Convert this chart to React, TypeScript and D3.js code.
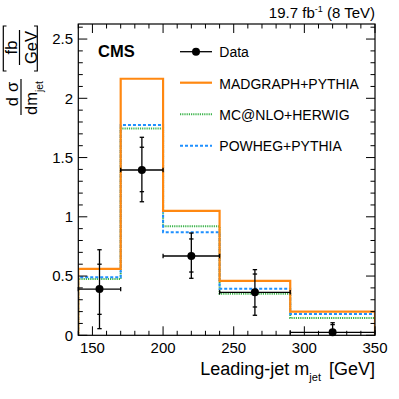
import React from "react";
import * as d3 from "d3";

const binEdges = [140, 170, 200, 240, 290, 350];
const madgraph = [0.56, 2.165, 1.05, 0.46, 0.2];
const mcatnlo = [0.475, 1.745, 0.92, 0.35, 0.146];
const powheg = [0.49, 1.775, 0.87, 0.393, 0.18];
const dataX = [155, 185, 220, 265, 320];
const dataY = [0.39, 1.395, 0.669, 0.363, 0.025];
const statUp = [0.6, 1.587, 0.813, 0.517, 0.09];
const statDown = [0.177, 1.212, 0.534, 0.239, 0];
const totUp = [0.722, 1.671, 0.863, 0.554, 0.106];
const totDown = [0.056, 1.127, 0.481, 0.169, 0];
const xTicks = [150, 200, 250, 300, 350];
const yTicks = [0, 0.5, 1, 1.5, 2, 2.5];
const legendLabels = ["Data", "MADGRAPH+PYTHIA", "MC@NLO+HERWIG", "POWHEG+PYTHIA"];

const FONT = "'Liberation Sans', Arial, Helvetica, sans-serif";
const ORANGE = "#ff8811";
const GREEN = "#3cb44b";
const BLUE = "#1e90ff";

export default function App() {
  const L = 78.3, R = 375, T = 24, B = 335.3;
  const x = d3.scaleLinear().domain([140, 350]).range([L, R]);
  const y = d3.scaleLinear().domain([0, 2.627]).range([B, T]);

  const stepPath = (vals: number[]) => {
    const pts: [number, number][] = [[x(binEdges[0]), y(0)]];
    vals.forEach((v, i) => {
      pts.push([x(binEdges[i]), y(v)]);
      pts.push([x(binEdges[i + 1]), y(v)]);
    });
    pts.push([x(binEdges[binEdges.length - 1]), y(0)]);
    return d3.line()(pts) as string;
  };

  const xMinor = d3.range(140, 351, 10);
  const yMinor = d3.range(0, 2.62, 0.1);

  const cap = 2.2;

  return (
    <svg width={399} height={399} style={{ position: "absolute", left: 0, top: 0 }} fontFamily={FONT}>
      <rect x={0} y={0} width={399} height={399} fill="white" />
      <defs>
        <clipPath id="plotclip">
          <rect x={L} y={T} width={R - L} height={B - T} />
        </clipPath>
      </defs>

      {/* histograms */}
      <g clipPath="url(#plotclip)" fill="none">
        <path d={stepPath(mcatnlo)} stroke={GREEN} strokeWidth={2} strokeDasharray="1.2,1" />
        <path d={stepPath(powheg)} stroke={BLUE} strokeWidth={2} strokeDasharray="3,2" />
        <path d={stepPath(madgraph)} stroke={ORANGE} strokeWidth={2.2} />
      </g>

      {/* frame */}
      <rect x={L} y={T} width={R - L} height={B - T} fill="none" stroke="#000" strokeWidth={1.2} />

      {/* ticks */}
      <g stroke="#000" strokeWidth={1}>
        {xMinor.map((v) => {
          const major = v % 50 === 0;
          const len = major ? 9 : 4.5;
          return (
            <g key={"xt" + v}>
              <line x1={x(v)} x2={x(v)} y1={B} y2={B - len} />
              <line x1={x(v)} x2={x(v)} y1={T} y2={T + len} />
            </g>
          );
        })}
        {yMinor.map((v, i) => {
          const major = i % 5 === 0;
          const len = major ? 9 : 4.5;
          return (
            <g key={"yt" + i}>
              <line x1={L} x2={L + len} y1={y(v)} y2={y(v)} />
              <line x1={R} x2={R - len} y1={y(v)} y2={y(v)} />
            </g>
          );
        })}
      </g>

      {/* data */}
      <g stroke="#000" strokeWidth={1.3}>
        {dataX.map((dx, i) => {
          const cx = x(dx), cy = y(dataY[i]);
          const x0 = x(binEdges[i]), x1 = x(binEdges[i + 1]);
          return (
            <g key={i}>
              <line x1={x0} x2={x1} y1={cy} y2={cy} />
              <line x1={x0} x2={x0} y1={cy - cap} y2={cy + cap} />
              <line x1={x1} x2={x1} y1={cy - cap} y2={cy + cap} />
              <line x1={cx} x2={cx} y1={y(totUp[i])} y2={y(totDown[i])} />
              <line x1={cx - cap} x2={cx + cap} y1={y(totUp[i])} y2={y(totUp[i])} />
              {totDown[i] > 0 && <line x1={cx - cap} x2={cx + cap} y1={y(totDown[i])} y2={y(totDown[i])} />}
              <line x1={cx - cap} x2={cx + cap} y1={y(statUp[i])} y2={y(statUp[i])} />
              {statDown[i] > 0 && <line x1={cx - cap} x2={cx + cap} y1={y(statDown[i])} y2={y(statDown[i])} />}
              <circle cx={cx} cy={cy} r={4} fill="#000" stroke="none" />
            </g>
          );
        })}
      </g>

      {/* tick labels */}
      <g fontSize={15} fill="#000">
        {xTicks.map((v) => (
          <text key={"xl" + v} x={x(v)} y={353} textAnchor="middle">{v}</text>
        ))}
        {yTicks.map((v) => (
          <text key={"yl" + v} x={73} y={y(v) + 5.3} textAnchor="end">{v}</text>
        ))}
      </g>

      {/* x title */}
      <text x={R} y={375} textAnchor="end" fontSize={18}>
        Leading-jet m
        <tspan fontSize={11} dy={6}>jet</tspan>
        <tspan dy={-6} dx={3}> [GeV]</tspan>
      </text>

      {/* y title (rotated) */}
      <g transform="rotate(-90)" fill="#000">
        <text x={-94} y={18.3} textAnchor="middle" fontSize={16.5}>d<tspan dx={5}>σ</tspan></text>
        <line x1={-115} x2={-79} y1={21} y2={21} stroke="#000" strokeWidth={1.2} />
        <text x={-115} y={37} textAnchor="start" fontSize={16.5}>
          dm<tspan fontSize={10.5} dy={5.5}>jet</tspan>
        </text>
        <text x={-47.5} y={17} textAnchor="middle" fontSize={16.5}>fb</text>
        <line x1={-65} x2={-30} y1={19.5} y2={19.5} stroke="#000" strokeWidth={1.2} />
        <text x={-47.5} y={37} textAnchor="middle" fontSize={16.5}>GeV</text>
      </g>
      {/* brackets (drawn unrotated, as in reference) */}
      <g stroke="#000" strokeWidth={1.2} fill="none">
        <path d="M6.5,26 H3.3 V71 H6.5" />
        <path d="M34,26 H37.3 V71 H34" />
      </g>

      {/* header */}
      <text x={R} y={18.3} textAnchor="end" fontSize={15}>
        19.7 fb<tspan fontSize={9} dy={-6}>-1</tspan>
        <tspan dy={6}> (8 TeV)</tspan>
      </text>
      <text x={98} y={57.3} fontSize={16.5} fontWeight="bold">CMS</text>

      {/* legend */}
      <g>
        <line x1={180} x2={212} y1={51.7} y2={51.7} stroke="#000" strokeWidth={1.3} />
        <circle cx={196} cy={51.7} r={4} fill="#000" />
        <line x1={180} x2={212} y1={82.7} y2={82.7} stroke={ORANGE} strokeWidth={2.2} />
        <line x1={180} x2={212} y1={114.3} y2={114.3} stroke={GREEN} strokeWidth={2} strokeDasharray="1.2,1" />
        <line x1={180} x2={212} y1={145.7} y2={145.7} stroke={BLUE} strokeWidth={2} strokeDasharray="3,2" />
        {legendLabels.map((t, i) => (
          <text key={t} x={219.3} y={[56.7, 88.8, 119.5, 151][i]} fontSize={14}>{t}</text>
        ))}
      </g>
    </svg>
  );
}
